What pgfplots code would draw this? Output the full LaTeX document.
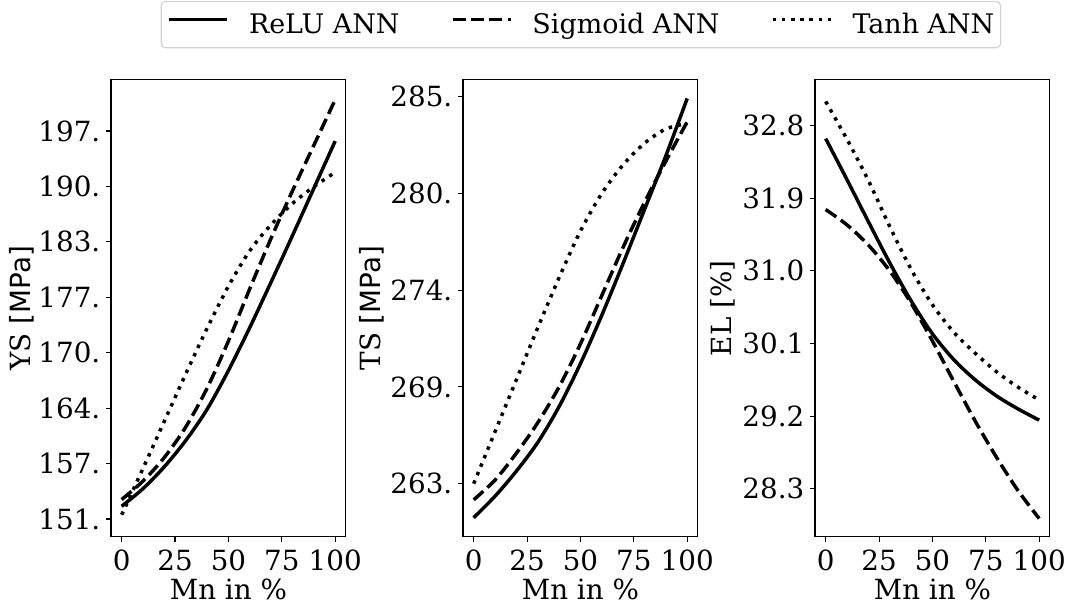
\documentclass[border=0pt]{standalone}
\usepackage{fontspec}
\setmainfont{DejaVu Serif}
\newfontfamily\dvsans{DejaVu Sans}
\usepackage{pgfplots}
\usepackage{pgfplotstable}
\pgfplotsset{compat=1.18}

\pgfplotstableread{
x relu sig tanh
0 152.5 153.3 151.5
10 154.6 155.5 157.0
20 157.2 158.3 162.6
30 160.3 161.9 168.2
40 164.0 166.5 173.6
50 168.6 172.1 178.6
60 173.7 178.3 182.8
70 179.1 184.3 185.9
80 184.6 189.9 188.4
90 190.2 195.3 190.4
100 195.8 200.7 192.1
}\ysdata

\pgfplotstableread{
x relu sig tanh
0 262.0 263.0 263.9
10 263.2 264.1 266.8
20 264.6 265.6 269.7
30 266.2 267.3 272.6
40 268.2 269.3 275.4
50 270.6 271.7 278.0
60 273.3 274.4 280.1
70 276.2 277.1 281.7
80 279.2 279.6 282.9
90 282.2 281.9 283.7
100 285.4 284.1 284.0
}\tsdata

\pgfplotstableread{
x relu sig tanh
0 32.64 31.76 33.10
10 32.13 31.57 32.63
20 31.61 31.32 32.12
30 31.10 31.00 31.55
40 30.63 30.60 31.02
50 30.22 30.13 30.58
60 29.90 29.63 30.24
70 29.65 29.14 29.98
80 29.45 28.69 29.75
90 29.29 28.28 29.56
100 29.15 27.93 29.40
}\eldata

\pgfplotsset{
  myax/.style={
    scale only axis, width=169.1pt, height=329.04pt,
    anchor=south west,
    xmin=-5, xmax=105,
    xtick={0,25,50,75,100}, xticklabels={0,25,50,75,100},
    tick align=outside, tick pos=left,
    major tick length=3.5pt,
    every tick/.style={black, line width=0.8pt},
    axis line style={line width=0.8pt, black},
    ticklabel style={font=\fontsize{20}{24}\selectfont},
    xticklabel style={anchor=center, inner sep=0pt, yshift=-13.5pt},
    yticklabel style={anchor=east, inner sep=0pt, xshift=-4pt},
    label style={font=\fontsize{20}{24}\selectfont},
    xlabel={Mn in \%},
    xlabel style={at={(axis description cs:0.5,-0.1151)}, anchor=center, inner sep=0pt},
    every axis plot/.append style={black, line width=2.5pt, smooth},
  },
  relu/.style={solid},
  sig/.style={dash pattern=on 9.25pt off 4pt},
  tanh/.style={dash pattern=on 2.5pt off 4.1pt},
}

\begin{document}
\begin{tikzpicture}
\useasboundingbox (0,0) rectangle (768.96pt,436.32pt);

\begin{axis}[myax, at={(79.92pt,49.9pt)},
  ymin=148.9, ymax=203.08,
  ytick={151,157.5714,164.1429,170.7143,177.2857,183.8571,190.4286,197},
  yticklabels={151.,157.,164.,170.,177.,183.,190.,197.},
  ylabel={YS {\dvsans[MPa]}},
  ylabel style={at={(axis description cs:-0.38,0.5)}, anchor=center, inner sep=0pt},
  legend style={at={(axis description cs:0.2115,1.0687)}, anchor=south west,
    draw=black!18, line width=0.8pt, rounded corners=3pt, fill=white,
    font=\fontsize{19.4}{23}\selectfont,
    inner xsep=4.5pt, inner ysep=8.5pt,
    nodes={inner sep=0pt},
    /tikz/every odd column/.append style={column sep=14.4pt},
    /tikz/every even column/.append style={column sep=37pt}},
  legend columns=3,
  legend cell align=left,
  legend image code/.code={\draw[#1] (0pt,0.36em) -- (41.8pt,0.36em);},
]
\addplot[relu] table[x=x,y=relu] {\ysdata};
\addlegendentry{ReLU ANN}
\addplot[sig] table[x=x,y=sig] {\ysdata};
\addlegendentry{Sigmoid ANN}
\addplot[tanh] table[x=x,y=tanh] {\ysdata};
\addlegendentry{Tanh ANN}
\end{axis}

\begin{axis}[myax, at={(333.36pt,49.9pt)},
  ymin=260.94, ymax=286.45,
  ytick={263.9,269.3,274.7,280.1,285.5},
  yticklabels={263.,269.,274.,280.,285.},
  ylabel={TS {\dvsans[MPa]}},
  ylabel style={at={(axis description cs:-0.389,0.5)}, anchor=center, inner sep=0pt},
]
\addplot[relu] table[x=x,y=relu] {\tsdata};
\addplot[sig] table[x=x,y=sig] {\tsdata};
\addplot[tanh] table[x=x,y=tanh] {\tsdata};
\end{axis}

\begin{axis}[myax, at={(586.8pt,49.9pt)},
  ymin=27.705, ymax=33.37,
  ytick={28.3,29.2,30.1,31.0,31.9,32.8},
  yticklabels={28.3,29.2,30.1,31.0,31.9,32.8},
  ylabel={EL [\%]},
  ylabel style={at={(axis description cs:-0.391,0.5)}, anchor=center, inner sep=0pt},
]
\addplot[relu] table[x=x,y=relu] {\eldata};
\addplot[sig] table[x=x,y=sig] {\eldata};
\addplot[tanh] table[x=x,y=tanh] {\eldata};
\end{axis}
\end{tikzpicture}
\end{document}
